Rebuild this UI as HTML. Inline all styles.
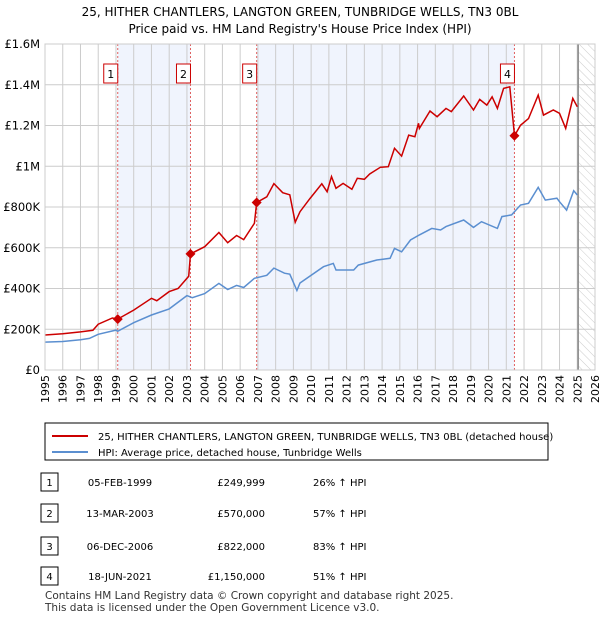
<!DOCTYPE html>
<html><head><meta charset="utf-8"><style>
body{margin:0;background:#fff;font-family:"Liberation Sans","DejaVu Sans",sans-serif;}
svg text{font-family:"DejaVu Sans","Liberation Sans",sans-serif;}
</style></head><body>
<svg id="c" width="600" height="620" xmlns="http://www.w3.org/2000/svg">
<defs><pattern id="hatch" width="6" height="6" patternUnits="userSpaceOnUse" patternTransform="rotate(-45)"><line x1="0" y1="0" x2="0" y2="6" stroke="#ccc" stroke-width="1"/></pattern></defs>
<text x="300" y="16" text-anchor="middle" font-size="12">25, HITHER CHANTLERS, LANGTON GREEN, TUNBRIDGE WELLS, TN3 0BL</text>
<text x="300" y="33" text-anchor="middle" font-size="12">Price paid vs. HM Land Registry's House Price Index (HPI)</text>
<g id="plot"></g>
<rect x="45" y="423" width="503" height="37" fill="#fff" stroke="#000" stroke-width="1"/>
<line x1="52" y1="436" x2="88" y2="436" stroke="#cc0000" stroke-width="2"/>
<text x="98" y="440" font-size="10">25, HITHER CHANTLERS, LANGTON GREEN, TUNBRIDGE WELLS, TN3 0BL (detached house)</text>
<line x1="52" y1="452" x2="88" y2="452" stroke="#5b8fd0" stroke-width="2"/>
<text x="98" y="456" font-size="10">HPI: Average price, detached house, Tunbridge Wells</text>
<g id="tbl" font-size="10"></g>
<text x="45" y="599" font-size="10.5" fill="#333">Contains HM Land Registry data © Crown copyright and database right 2025.</text>
<text x="45" y="611" font-size="10.5" fill="#333">This data is licensed under the Open Government Licence v3.0.</text>
</svg>
<script>
const yTicks=[0,200000,400000,600000,800000,1000000,1200000,1400000,1600000];
const yTickLabels=["£0","£200K","£400K","£600K","£800K","£1M","£1.2M","£1.4M","£1.6M"];
const saleLabels=["1","2","3","4"];
const saleYears=[1999.1,2003.2,2006.93,2021.46];
const salePrices=[249999,570000,822000,1150000];
const saleDates=["05-FEB-1999","13-MAR-2003","06-DEC-2006","18-JUN-2021"];
const salePriceText=["£249,999","£570,000","£822,000","£1,150,000"];
const saleHpiText=["26% ↑ HPI","57% ↑ HPI","83% ↑ HPI","51% ↑ HPI"];
const hpiYears=[1995,1996,1997,1997.5,1998,1999,1999.1,2000,2001,2002,2003,2003.3,2004,2004.8,2005.3,2005.8,2006.2,2006.8,2007.5,2007.9,2008.5,2008.8,2009.2,2009.37,2010.7,2011.25,2011.4,2012.4,2012.66,2013.7,2014.45,2014.7,2015.1,2015.6,2016.1,2016.8,2017.3,2017.6,2018.6,2019.15,2019.6,2020.5,2020.75,2021.3,2021.8,2022.25,2022.8,2023.2,2023.85,2024,2024.4,2024.8,2025.0];
const hpiValues=[137000,140000,148000,155000,175000,196000,190000,232000,270000,300000,365000,355000,375000,425000,395000,415000,405000,450000,465000,500000,475000,470000,390000,427000,507000,523000,491000,491000,515000,540000,548000,597000,580000,638000,663000,695000,687000,704000,736000,700000,728000,695000,753000,761000,810000,818000,896000,834000,843000,826000,785000,880000,859000];
const priceYears=[1995,1996,1997,1997.7,1998,1998.8,1999.1,2000,2001,2001.3,2002,2002.5,2003.1,2003.2,2004,2004.8,2005.3,2005.8,2006.2,2006.8,2006.93,2007.5,2007.9,2008.4,2008.8,2009.1,2009.37,2009.93,2010.6,2010.9,2011.15,2011.4,2011.8,2012.3,2012.6,2013,2013.3,2013.9,2014.35,2014.7,2015.1,2015.5,2015.85,2016.05,2016.1,2016.7,2017.1,2017.6,2017.9,2018.6,2019.15,2019.5,2019.9,2020.2,2020.5,2020.85,2021.2,2021.46,2021.8,2022.25,2022.8,2023.1,2023.65,2024,2024.35,2024.75,2025.0];
const priceValues=[172000,178000,187000,195000,225000,255000,249999,294000,352000,340000,385000,400000,460000,570000,605000,675000,625000,660000,640000,720000,822000,850000,915000,870000,860000,725000,777000,841000,914000,875000,949000,892000,916000,887000,941000,936000,962000,995000,998000,1088000,1050000,1153000,1145000,1211000,1186000,1271000,1243000,1284000,1268000,1345000,1276000,1328000,1300000,1341000,1284000,1382000,1390000,1150000,1201000,1234000,1349000,1251000,1276000,1260000,1186000,1333000,1292000];
const x0=45,x1=595,y0=370,y1=44,yr0=1995,yr1=2026,ymax=1600000,dataEnd=2025.05;
const X=t=>x0+(t-yr0)/(yr1-yr0)*(x1-x0);
const Y=v=>y0-v/ymax*(y0-y1);
const NS="http://www.w3.org/2000/svg";
function mk(p,tag,a){const e=document.createElementNS(NS,tag);for(const k in a)e.setAttribute(k,a[k]);p.appendChild(e);return e;}
const g=document.getElementById('plot');
let e;
e=mk(g,'rect',{x:X(saleYears[0]),y:y1,width:X(saleYears[1])-X(saleYears[0]),height:y0-y1,fill:'#f0f4fd'});


e=mk(g,'rect',{x:X(saleYears[2]),y:y1,width:X(saleYears[3])-X(saleYears[2]),height:y0-y1,fill:'#f0f4fd'});


e=mk(g,'rect',{x:X(dataEnd),y:y1,width:x1-X(dataEnd),height:y0-y1,fill:'url(#hatch)'});


for(let t=yr0;t<=yr1;t++){
 e=mk(g,'line',{x1:X(t),x2:X(t),y1:y1,y2:y0,stroke:'#ccc','stroke-width':1});
 
 
 e=mk(g,'text',{x:0,y:0,transform:`translate(${X(t)+4},${375}) rotate(-90)`,'text-anchor':'end','font-size':11});
 e.textContent=t;
 
 
}
yTicks.forEach((v,i)=>{
 e=mk(g,'line',{x1:x0,x2:x1,y1:Y(v),y2:Y(v),stroke:'#ccc','stroke-width':1});
 
 
 e=mk(g,'text',{x:40,y:Y(v)+4,'text-anchor':'end','font-size':11.5});
 e.textContent=yTickLabels[i];
 
 
});
e=mk(g,'line',{x1:X(dataEnd),x2:X(dataEnd),y1:y1,y2:y0,stroke:'#888','stroke-width':1.5});


saleYears.forEach((t,i)=>{
 e=mk(g,'line',{x1:X(t),x2:X(t),y1:y1,y2:y0,stroke:'#e06060','stroke-width':1,'stroke-dasharray':'2,2'});
 
 
});
const pts=(xs,vs)=>xs.map((t,i)=>X(t).toFixed(1)+','+Y(vs[i]).toFixed(1)).join(' ');
e=mk(g,'polyline',{points:pts(hpiYears,hpiValues),fill:'none',stroke:'#5b8fd0','stroke-width':1.5});


e=mk(g,'polyline',{points:pts(priceYears,priceValues),fill:'none',stroke:'#cc0000','stroke-width':1.5});


saleYears.forEach((t,i)=>{
 const cx=X(t),cy=Y(salePrices[i]);
 e=mk(g,'polygon',{points:`${cx},${cy-5} ${cx+5},${cy} ${cx},${cy+5} ${cx-5},${cy}`,fill:'#cc0000'});
 
 
 e=mk(g,'rect',{x:cx-14,y:64,width:14,height:19,fill:'#fff',stroke:'#cc0000','stroke-width':1});
 
 
 e=mk(g,'text',{x:cx-7,y:78,'text-anchor':'middle','font-size':11});
 e.textContent=saleLabels[i];
 
 
});
e=mk(g,'rect',{x:x0,y:y1,width:x1-x0,height:y0-y1,fill:'none',stroke:'#ccc','stroke-width':1});


const tb=document.getElementById('tbl');
const rowY=[482,513,546,576];
rowY.forEach((ry,i)=>{
 e=mk(tb,'rect',{x:41,y:ry-9,width:17,height:18,fill:'#fff',stroke:'#000','stroke-width':1});
 
 
 e=mk(tb,'text',{x:49.5,y:ry+4,'text-anchor':'middle'});
 e.textContent=saleLabels[i];
 
 
 e=mk(tb,'text',{x:120,y:ry+4,'text-anchor':'middle'});
 e.textContent=saleDates[i];
 
 
 e=mk(tb,'text',{x:265,y:ry+4,'text-anchor':'end'});
 e.textContent=salePriceText[i];
 
 
 e=mk(tb,'text',{x:313,y:ry+4});
 e.textContent=saleHpiText[i];
 
 
});
</script>
</body></html>
